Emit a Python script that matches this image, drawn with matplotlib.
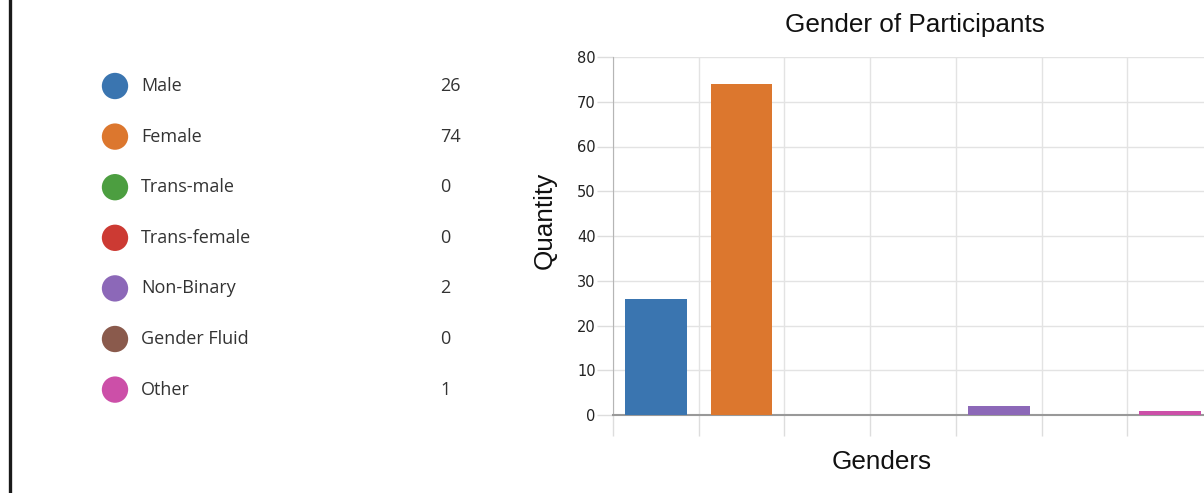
import matplotlib
matplotlib.use("Agg")
import matplotlib.pyplot as plt
from matplotlib.lines import Line2D

# Survey counts
genders = ["Male", "Female", "Trans-male", "Trans-female", "Non-Binary", "Gender Fluid", "Other"]
counts = [26, 74, 0, 0, 2, 0, 1]
colors = ["#3a75b0", "#dc772e", "#4c9e40", "#cc3a33", "#8c68b8", "#8a5a4c", "#cc4fa8"]
y_ticks = [0, 10, 20, 30, 40, 50, 60, 70, 80]

W, H = 1204, 493
fig = plt.figure(figsize=(W / 100, H / 100), dpi=100)
fig.patch.set_facecolor("white")

# dark rule on the far left
fig.add_artist(Line2D([10 / W, 10 / W], [0, 1], color="#1a1a1a", lw=2.4))

# legend list with counts (pixel coordinates)
leg = fig.add_axes([0, 0, 0.45, 1])
leg.set_xlim(0, 0.45 * W)
leg.set_ylim(H, 0)
leg.axis("off")
for i, (name, n, c) in enumerate(zip(genders, counts, colors)):
    y = 86 + i * 50.6
    leg.scatter([115], [y], s=360, color=c, edgecolors="none")
    leg.text(141, y, name, fontsize=13, family="Open Sans", color="#333333", va="center")
    leg.text(440, y, str(n), fontsize=13, family="Open Sans", color="#333333", va="center")

# bar chart
ax = fig.add_axes([613 / W, 1 - 415 / H, 600 / W, (415 - 57) / H])
x = range(len(genders))
ax.bar(x, counts, width=0.72, color=colors, zorder=3)
ax.set_xlim(-0.5, len(genders) - 0.5)
ax.set_ylim(0, 80)
ax.set_yticks(y_ticks)
ax.set_xticks([i - 0.5 for i in range(len(genders) + 1)])
ax.set_xticklabels([])
ax.tick_params(axis="x", length=15, color="#dddddd", width=1)
ax.tick_params(axis="y", length=11.5, color="#dddddd", width=1, labelsize=10.5,
               labelcolor="#222222", pad=1)
ax.grid(True, color="#e3e3e3", lw=1, zorder=0)
for s in ["top", "right"]:
    ax.spines[s].set_visible(False)
ax.spines["left"].set_color("#b5b5b5")
ax.spines["bottom"].set_color("#999999")
ax.spines["bottom"].set_linewidth(1.5)

fig.text(915 / W, 1 - 25 / H, "Gender of Participants", fontsize=18.8, family="Liberation Sans",
         ha="center", va="center", color="#111111")
fig.text(545 / W, 1 - 220 / H, "Quantity", fontsize=18.8, family="Liberation Sans",
         rotation=90, ha="center", va="center", color="#111111")
fig.text(882 / W, 1 - 462 / H, "Genders", fontsize=18.8, family="Liberation Sans",
         ha="center", va="center", color="#111111")

fig.savefig("out.png", dpi=100)
